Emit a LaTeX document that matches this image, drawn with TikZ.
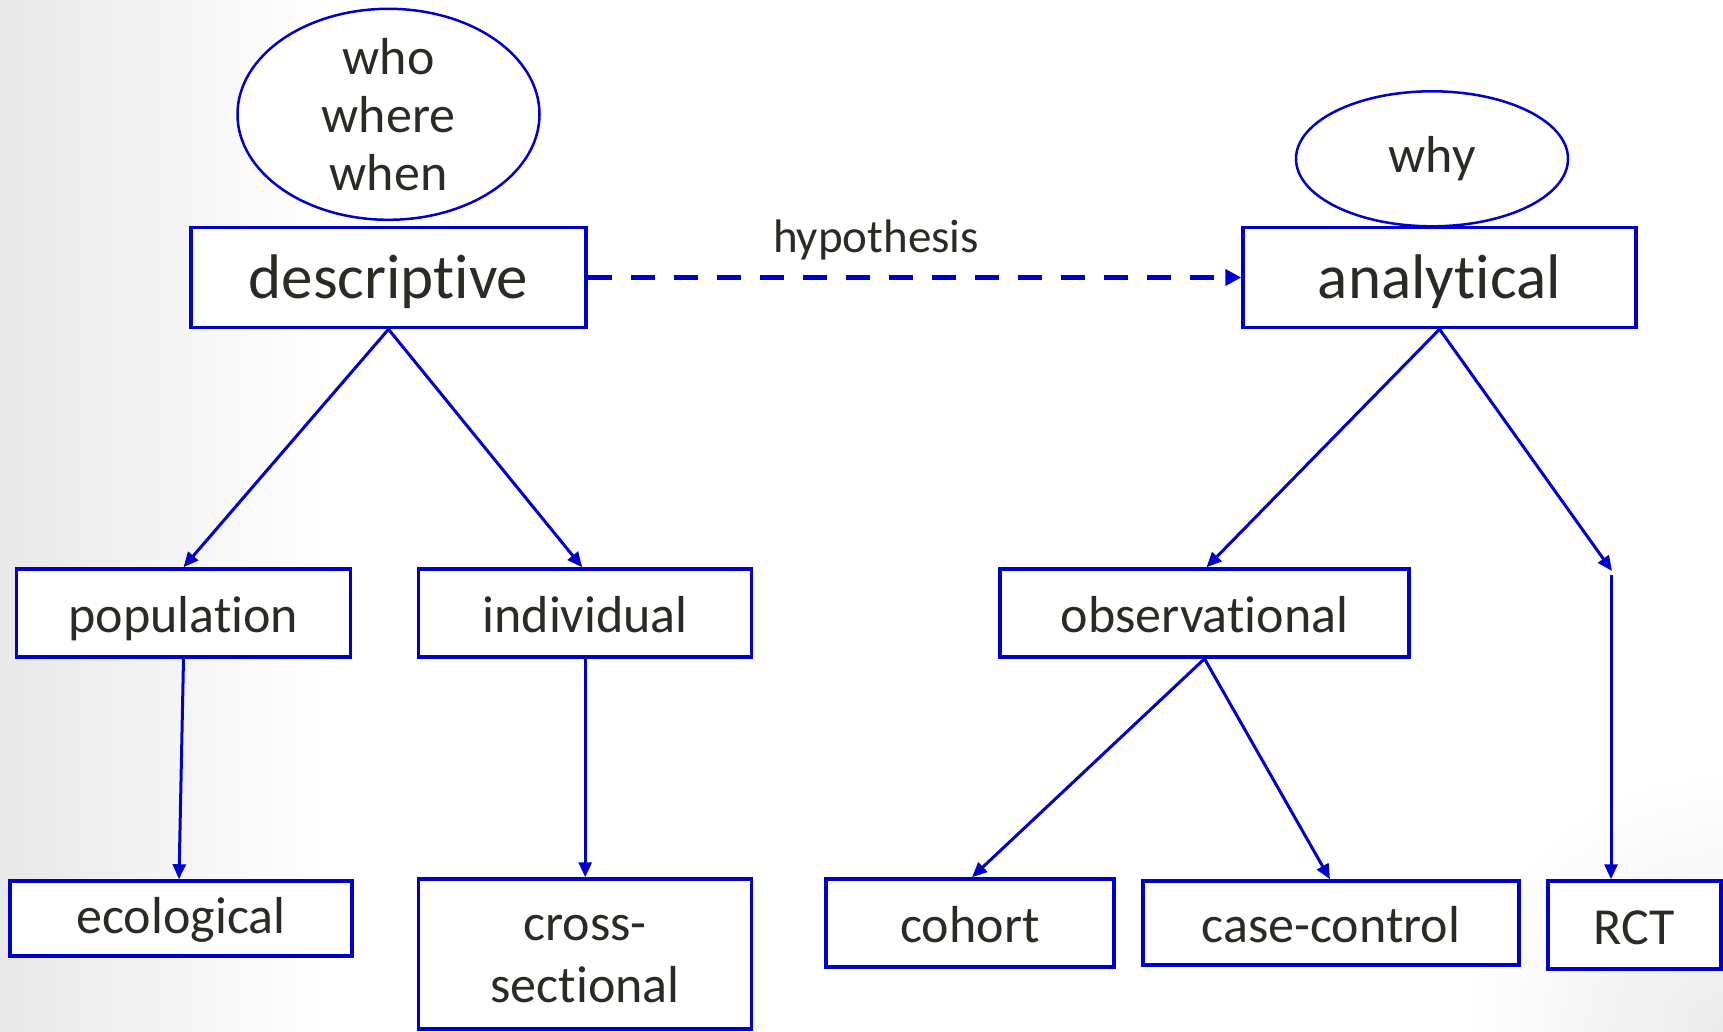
\documentclass[tikz,border=0pt]{standalone}
\usepackage{fontspec}
\setmainfont{Carlito}[Ligatures={NoCommon,NoContextual}]
\usetikzlibrary{arrows.meta,shapes.geometric}
\definecolor{navy}{HTML}{0000CC}
\definecolor{ink}{HTML}{2B2A24}
\begin{document}
\begin{tikzpicture}[x=1pt,y=-1pt,
  box/.style={draw=navy, line width=3.5pt, fill=white, inner sep=0pt, text=ink,
              font=\fontsize{52}{62}\selectfont, align=center,
              text height=50pt, text depth=12pt},
  bigbox/.style={box, font=\fontsize{63}{70}\selectfont,
                 text height=60pt, text depth=19pt},
  oval/.style={ellipse, draw=navy, line width=2.5pt, fill=white, inner sep=0pt},
  ovaltext/.style={text=ink, font=\fontsize{52}{58}\selectfont, align=center, inner sep=0pt},
  link/.style={draw=navy, line width=3pt, -{Triangle[length=15pt,width=13pt]}},
]
\useasboundingbox (0,0) rectangle (1723,1031);
% soft grey background edges
\fill[white] (0,0) rectangle (1723,1031);
\shade[left color=black!9, right color=white] (0,0) rectangle (330,1031);
\shade[inner color=black!8, outer color=white] (1723,1031) circle (260);

% top level
\node[oval, minimum width=302pt, minimum height=211pt] (q1) at (388.5,114.3) {};
\node[ovaltext] (q1t) at (q1.center) {who\\where\\when};
\node[oval, minimum width=272pt, minimum height=135pt] (q2) at (1432,158.8) {};
\node[ovaltext] (q2t) at (q2.center) {why};

\node[bigbox, minimum width=395pt, minimum height=100pt] (desc) at (388.5,277.5) {descriptive};
\node[bigbox, minimum width=393pt, minimum height=100pt] (anal) at (1439.5,277.5) {analytical};

% middle level
\node[box, minimum width=334pt, minimum height=88pt] (pop) at (183.5,613) {population};
\node[box, minimum width=333pt, minimum height=88pt] (ind) at (585.2,613) {individual};
\node[box, minimum width=409pt, minimum height=88pt] (obs) at (1204.5,613) {observational};

% bottom level
\node[box, minimum width=342pt, minimum height=75pt, text height=41pt, text depth=12pt]
     (eco) at (181,918.5) {ecological};
\node[box, minimum width=333pt, minimum height=150pt, text height=104pt, text depth=8pt]
     (cross) at (585.2,954) {cross-\\sectional};
\node[box, minimum width=288pt, minimum height=88pt] (coh) at (970,923) {cohort};
\node[box, minimum width=376pt, minimum height=84pt] (cc) at (1331,923) {case-control};
\node[box, minimum width=173pt, minimum height=88pt] (rct) at (1634.5,925) {RCT};

% hypothesis link
\draw[draw=navy, line width=4.5pt, dash pattern=on 24pt off 19pt,
      -{Triangle[length=16pt,width=16pt]}] (desc.east) -- (anal.west);
\node[text=ink, font=\fontsize{47}{52}\selectfont, inner sep=0pt] (hyp) at (876,240) {hypothesis};

% tree links
\draw[link] (desc.south) -- (pop.north);
\draw[link] (desc.south) -- ([xshift=-3pt]ind.north);
\draw[link] (pop.south) -- ([xshift=-2pt]eco.north);
\draw[link] (ind.south) -- (cross.north);
\draw[link] (anal.south) -- ([xshift=2pt]obs.north);
\draw[link] (obs.south) -- ([xshift=2pt]coh.north);
\draw[link] (obs.south) -- ([xshift=-1pt]cc.north);

\coordinate (brkA) at (1612,571);
\coordinate (brkB) at (1611,575);
\draw[link] (anal.south) -- (brkA);
\draw[link] (brkB) -- (brkB |- rct.north);
\end{tikzpicture}
\end{document}
